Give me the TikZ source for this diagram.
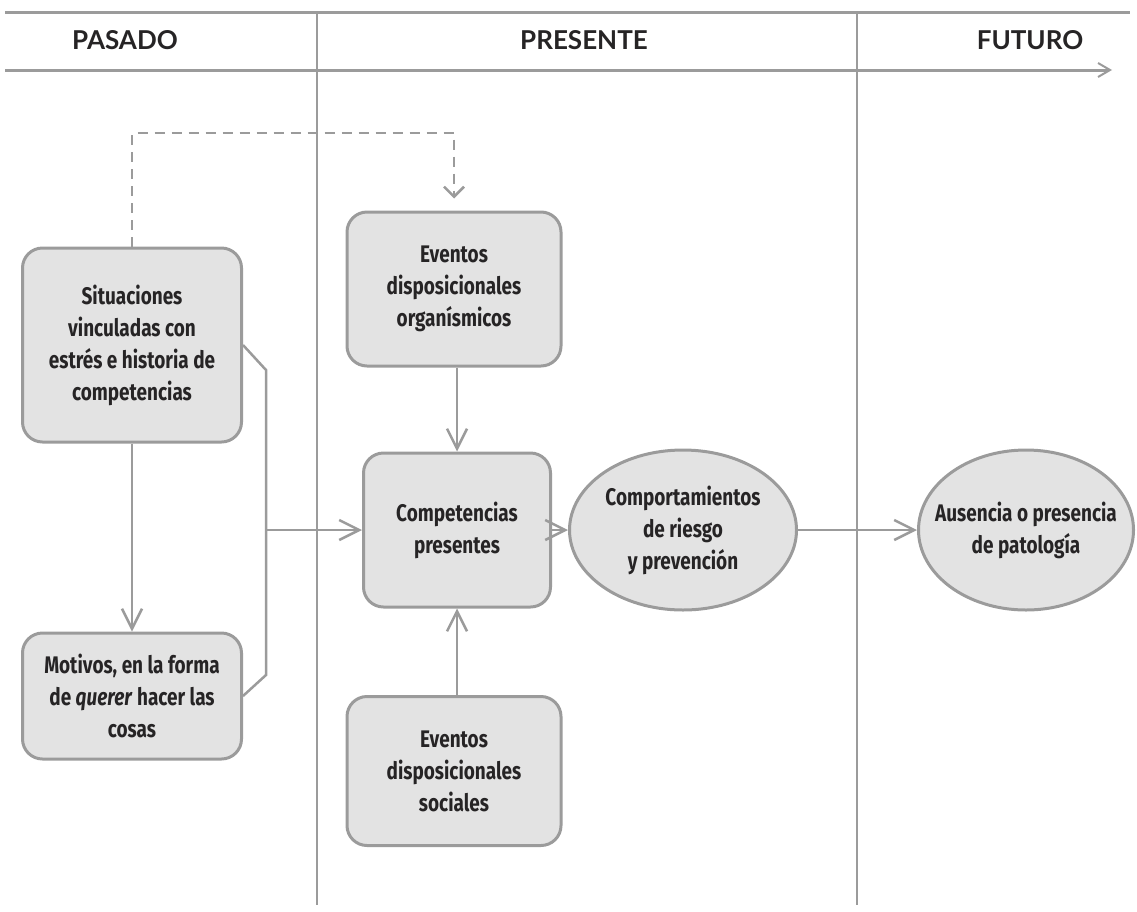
\documentclass[tikz,border=0pt]{standalone}
\usepackage{fontspec}
\setmainfont{Lato}
\newfontfamily\boxfont{Fira Sans}[FakeStretch=0.79]
\usetikzlibrary{arrows.meta,shapes.geometric}
\definecolor{linegray}{HTML}{9B9B9B}
\definecolor{boxfill}{HTML}{E3E3E3}
\definecolor{inkgray}{HTML}{262425}
\tikzset{
	box/.style={draw=linegray, line width=3pt, fill=boxfill, rounded corners=20pt,
		align=center, text=inkgray, inner sep=0pt,
		font=\boxfont\bfseries\fontsize{24}{32}\selectfont},
	oval/.style={ellipse, draw=linegray, line width=3pt, fill=boxfill,
		align=center, text=inkgray, inner sep=0pt,
		font=\boxfont\bfseries\fontsize{24}{32}\selectfont},
	head/.style={text=inkgray, font=\bfseries\fontsize{26}{30}\selectfont},
	rule/.style={draw=linegray, line width=2.5pt},
	link/.style={rule, -{Straight Barb[length=20pt,width=20pt,line width=2.5pt]}},
	dashlink/.style={rule, dash pattern=on 10pt off 7pt, -{Straight Barb[length=10pt,width=20pt,line width=2.5pt]}}
}
\begin{document}
\begin{tikzpicture}[x=1pt,y=-1pt]
	\useasboundingbox (0,0) rectangle (1137,911);

	% time axis
	\coordinate (topl) at (5,12);
	\coordinate (topr) at (1130,12);
	\coordinate (axl) at (5,70);
	\coordinate (axr) at (1112,70);
	\draw[rule, line width=3pt] (topl) -- (topr);
	\draw[rule, line width=3pt, -{Straight Barb[length=12pt,width=14pt,line width=2pt]}] (axl) -- (axr);
	\draw[rule, line width=1.5pt] (317,12) -- (317,905);
	\draw[rule, line width=1.5pt] (857,12) -- (857,905);

	\node[head] (pasado) at (125,40) {PASADO};
	\node[head] (presente) at (584,40) {PRESENTE};
	\node[head] (futuro) at (1030,40) {FUTURO};

	% nodes
	\node[box, minimum width=219pt, minimum height=194pt] (sit) at (132,345)
		{Situaciones\\vinculadas con\\estrés e historia de\\competencias};
	\node[box, minimum width=219pt, minimum height=126pt] (mot) at (132,696)
		{Motivos, en la forma\\de \textit{querer} hacer las\\cosas};
	\node[box, minimum width=214pt, minimum height=154pt] (org) at (454,289)
		{Eventos\\disposicionales\\organísmicos};
	\node[box, minimum width=187pt, minimum height=154pt] (comp) at (457,530)
		{Competencias\\presentes};
	\node[box, minimum width=214pt, minimum height=149pt] (soc) at (454,771)
		{Eventos\\disposicionales\\sociales};
	\node[oval, minimum width=227pt, minimum height=160pt] (riesgo) at (683,530)
		{Comportamientos\\de riesgo\\y prevención};
	\node[oval, inner xsep=-20pt, minimum width=215pt, minimum height=160pt] (pat) at (1026,530)
		{Ausencia o presencia\\de patología};

	% connectors
	\coordinate (dashtop) at (132,133);
	\draw[dashlink] (sit.north) -- (dashtop) -| ([yshift=12pt]org.north);
	\draw[link] (sit.south) -- (mot.north);

	\coordinate (brtop) at (266,370);
	\coordinate (brbot) at (266,675);
	\coordinate (join) at (266,530);
	\draw[rule] (sit.east) -- (brtop) -- (brbot) -- (mot.east);
	\draw[link] (join) -- (comp.west);

	\draw[link] (org.south -| comp.north) -- (comp.north);
	\draw[link] (soc.north -| comp.south) -- (comp.south);
	\draw[link] (comp.east) -- (riesgo.west);
	\draw[link] (riesgo.east) -- (pat.west);
\end{tikzpicture}
\end{document}
